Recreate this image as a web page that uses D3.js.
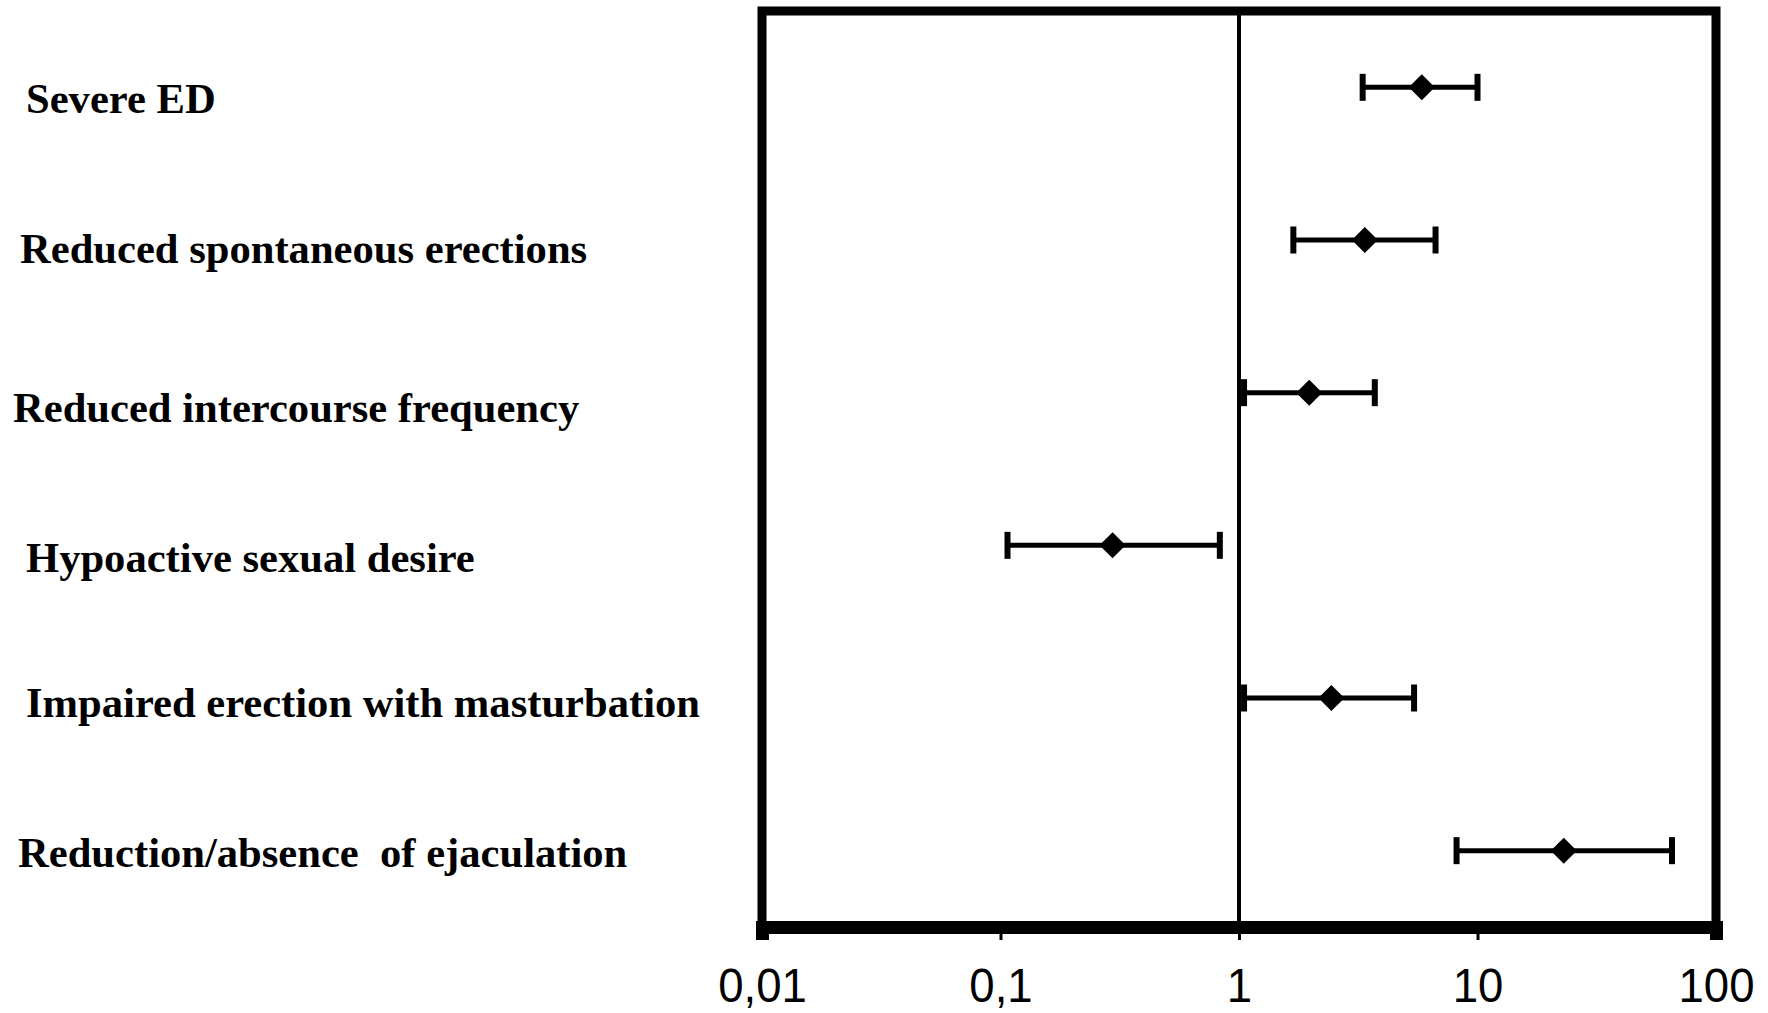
<!DOCTYPE html>
<html>
<head>
<meta charset="utf-8">
<script src="https://cdn.jsdelivr.net/npm/d3@7"></script>
<style>
  body { margin: 0; background: #ffffff; }
  svg { display: block; }
</style>
</head>
<body>
<div id="chart"></div>
<script>
// Data (odds ratio with 95% CI)
const categories = [
    "Severe ED",
    "Reduced spontaneous erections",
    "Reduced intercourse frequency",
    "Hypoactive sexual desire",
    "Impaired erection with masturbation",
    "Reduction/absence  of ejaculation"
];
const oddsRatio = [5.84, 3.37, 1.97, 0.295, 2.44, 23.0];
const ciLower = [3.30, 1.69, 1.05, 0.107, 1.05, 8.17];
const ciUpper = [10.0, 6.67, 3.71, 0.831, 5.42, 65.4];
const tickValues = [0.01, 0.1, 1, 10, 100];
const tickLabels = ["0,01", "0,1", "1", "10", "100"];

// Label placement (the original text boxes are not quite aligned)
const labelX = [26, 20, 13, 26, 26, 18];
const labelDy = [26, 23, 29, 27, 19, 16];

const width = 1768;
const height = 1013;
const plot = { left: 762, right: 1716, top: 11, bottom: 927 };

const svg = d3.select('#chart').append('svg')
    .attr('width', width)
    .attr('height', height);

const x = d3.scaleLog()
    .domain([0.01, 100])
    .range([plot.left, plot.right]);

const y = d3.scaleBand()
    .domain(categories)
    .range([plot.top, plot.bottom]);

const rows = categories.map((c, i) => ({
    category: c,
    or: oddsRatio[i],
    lo: ciLower[i],
    hi: ciUpper[i],
    lx: labelX[i],
    dy: labelDy[i]
}));

// plot frame
svg.append('rect')
    .attr('x', plot.left)
    .attr('y', plot.top)
    .attr('width', plot.right - plot.left)
    .attr('height', plot.bottom - plot.top)
    .attr('fill', 'none')
    .attr('stroke', '#000')
    .attr('stroke-width', 9);

// reference line at OR = 1
svg.append('line')
    .attr('x1', x(1)).attr('x2', x(1))
    .attr('y1', plot.top).attr('y2', plot.bottom)
    .attr('stroke', '#000')
    .attr('stroke-width', 4);

// x axis
const axis = svg.append('g')
    .attr('transform', `translate(0, ${plot.bottom})`)
    .call(d3.axisBottom(x)
        .tickValues(tickValues)
        .tickFormat((d, i) => tickLabels[i])
        .tickSizeOuter(0)
        .tickSize(13)
        .tickPadding(28));

axis.select('.domain')
    .attr('stroke', '#000')
    .attr('stroke-width', 13);

axis.selectAll('.tick line')
    .attr('stroke', '#000')
    .attr('stroke-width', 3);

axis.selectAll('.tick text')
    .attr('fill', '#000')
    .style('font-family', '"Liberation Sans", Arial, sans-serif')
    .style('font-size', '48px')
    .attr('transform', 'scale(0.95, 1)');

// category labels
svg.selectAll('.label')
    .data(rows)
    .enter().append('text')
    .attr('class', 'label')
    .attr('x', d => d.lx)
    .attr('y', d => y(d.category) + y.bandwidth() / 2 + d.dy)
    .style('font-family', '"Liberation Serif", "Times New Roman", serif')
    .style('font-weight', 'bold')
    .style('font-size', '42.6px')
    .style('white-space', 'pre')
    .attr('fill', '#000')
    .text(d => d.category);

// error bars
const bars = svg.selectAll('.bar')
    .data(rows)
    .enter().append('g')
    .attr('class', 'bar')
    .attr('transform', d => `translate(0, ${y(d.category) + y.bandwidth() / 2})`);

bars.append('line')
    .attr('x1', d => x(d.lo))
    .attr('x2', d => x(d.hi))
    .attr('y1', 0).attr('y2', 0)
    .attr('stroke', '#000')
    .attr('stroke-width', 5);

bars.selectAll('.cap')
    .data(d => [d.lo, d.hi])
    .enter().append('line')
    .attr('class', 'cap')
    .attr('x1', v => x(v)).attr('x2', v => x(v))
    .attr('y1', -13.5).attr('y2', 13.5)
    .attr('stroke', '#000')
    .attr('stroke-width', 6);

// diamond markers
bars.append('path')
    .attr('d', d3.symbol(d3.symbolSquare, 340))
    .attr('transform', d => `translate(${x(d.or)}, 0) rotate(45)`)
    .attr('fill', '#000');
</script>
</body>
</html>
